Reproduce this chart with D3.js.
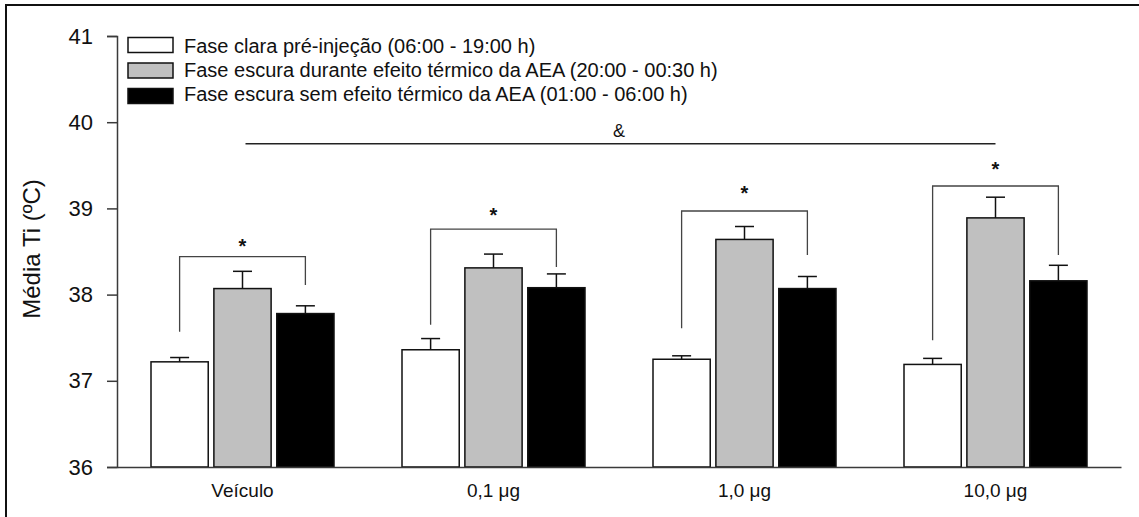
<!DOCTYPE html>
<html>
<head>
<meta charset="utf-8">
<script src="https://cdn.jsdelivr.net/npm/d3@7"></script>
<style>
  html, body { margin: 0; padding: 0; background: #fff; }
  svg { display: block; font-family: Arial, "Liberation Sans", sans-serif; }
</style>
</head>
<body>
<svg id="chart" width="1139" height="517"></svg>
<script>
// Doses (groups along the x axis)
const categories = ["Veículo", "0,1 μg", "1,0 μg", "10,0 μg"];

// Phases (one bar per group)
const seriesNames = [
  "Fase clara pré-injeção (06:00 - 19:00 h)",
  "Fase escura durante efeito térmico da AEA (20:00 - 00:30 h)",
  "Fase escura sem efeito térmico da AEA (01:00 - 06:00 h)"
];
const seriesFill = ["#ffffff", "#c0c0c0", "#000000"];

// Mean body temperature (°C) and standard error
const preInjection = [37.22, 37.36, 37.25, 37.19];
const preInjectionErr = [0.05, 0.13, 0.04, 0.07];
const darkDuring = [38.07, 38.31, 38.64, 38.89];
const darkDuringErr = [0.20, 0.16, 0.15, 0.24];
const darkAfter = [37.78, 38.08, 38.07, 38.16];
const darkAfterErr = [0.09, 0.16, 0.14, 0.18];

// Significance brackets per group (°C levels)
const bracketTop = [38.44, 38.76, 38.97, 39.26];
const bracketLeftEnd = [37.57, 37.65, 37.61, 37.47];
const bracketRightEnd = [38.11, 38.32, 38.46, 38.46];
const starLevel = [38.61, 38.97, 39.22, 39.50];

// Overall effect line across doses
const overallLevel = 39.75;
const overallLabelLevel = 39.83;

const yTicks = [36, 37, 38, 39, 40, 41];

const values = [preInjection, darkDuring, darkAfter];
const errors = [preInjectionErr, darkDuringErr, darkAfterErr];

const svg = d3.select("#chart");
const axisColor = "#3a3a3a";
const fontStack = "Arial, 'Liberation Sans', sans-serif";

// Frame around the figure
svg.append("path")
  .attr("d", "M6,517 L6,5 L1139,5")
  .attr("fill", "none").attr("stroke", "#111").attr("stroke-width", 2);

const x0 = d3.scaleBand().domain(categories).range([117, 1121]).padding(0);
const x1 = d3.scaleBand().domain(d3.range(seriesNames.length)).range([34, 217]).paddingInner(0.09);
const y = d3.scaleLinear().domain([36, 41]).range([467, 36]);

// Bars
const groups = svg.append("g").selectAll("g")
  .data(categories)
  .join("g")
  .attr("transform", d => `translate(${x0(d)},0)`);

groups.each(function(cat, gi) {
  const g = d3.select(this);
  seriesNames.forEach((s, si) => {
    const v = values[si][gi];
    const e = errors[si][gi];
    const bx = x1(si);
    const bw = x1.bandwidth();
    const cx = bx + bw / 2;
    // error bar (upper only)
    g.append("line")
      .attr("x1", cx).attr("x2", cx)
      .attr("y1", y(v)).attr("y2", y(v + e))
      .attr("stroke", "#111").attr("stroke-width", 1.5);
    g.append("line")
      .attr("x1", cx - 9.5).attr("x2", cx + 9.5)
      .attr("y1", y(v + e)).attr("y2", y(v + e))
      .attr("stroke", "#111").attr("stroke-width", 1.5);
    g.append("rect")
      .attr("x", bx).attr("width", bw)
      .attr("y", y(v)).attr("height", y(36) - y(v))
      .attr("fill", seriesFill[si])
      .attr("stroke", "#111").attr("stroke-width", 1.5);
  });

  // significance bracket between first and last phase
  const lx = x1(0) + x1.bandwidth() / 2;
  const rx = x1(2) + x1.bandwidth() / 2;
  g.append("path")
    .attr("d", `M${lx},${y(bracketLeftEnd[gi])} L${lx},${y(bracketTop[gi])} L${rx},${y(bracketTop[gi])} L${rx},${y(bracketRightEnd[gi])}`)
    .attr("fill", "none").attr("stroke", "#444").attr("stroke-width", 1.3);
  g.append("text")
    .attr("x", x0.bandwidth() / 2).attr("y", y(starLevel[gi]))
    .attr("dy", "0.55em")
    .attr("text-anchor", "middle")
    .attr("font-size", 20).attr("font-weight", "bold")
    .attr("fill", "#111")
    .text("*");
});

// Overall effect line
const firstC = x0(categories[0]) + x0.bandwidth() / 2;
const lastC = x0(categories[categories.length - 1]) + x0.bandwidth() / 2;
svg.append("line")
  .attr("x1", firstC + 3).attr("x2", lastC)
  .attr("y1", y(overallLevel)).attr("y2", y(overallLevel))
  .attr("stroke", "#222").attr("stroke-width", 1.5);
svg.append("text")
  .attr("x", (firstC + lastC) / 2).attr("y", y(overallLabelLevel))
  .attr("text-anchor", "middle").attr("font-size", 18).attr("fill", "#111")
  .attr("font-family", fontStack)
  .text("&");

// Y axis
const yAxis = d3.axisLeft(y).tickValues(yTicks).tickSize(10).tickPadding(14).tickFormat(d3.format("d"));
const yg = svg.append("g").attr("transform", "translate(117,0)").call(yAxis)
  .attr("font-size", 22).attr("font-family", fontStack);
yg.select(".domain").attr("stroke", axisColor).attr("stroke-width", 1.5);
yg.selectAll(".tick line").attr("stroke", axisColor).attr("stroke-width", 1.5);
yg.selectAll(".tick text").attr("fill", "#111");

// X axis (baseline with category labels, no ticks)
const xAxis = d3.axisBottom(x0).tickSize(0).tickPadding(17);
const xg = svg.append("g").attr("transform", `translate(0,${y(36)})`).call(xAxis)
  .attr("font-size", 19).attr("font-family", fontStack);
xg.select(".domain").attr("stroke", axisColor).attr("stroke-width", 1.5);
xg.selectAll(".tick text").attr("fill", "#111");

// Y axis title
svg.append("text")
  .attr("transform", "translate(40,249) rotate(-90)")
  .attr("text-anchor", "middle").attr("font-size", 24).attr("fill", "#111")
  .text("Média Ti (ºC)");

// Legend
const legend = svg.append("g");
seriesNames.forEach((s, i) => {
  legend.append("rect")
    .attr("x", 128).attr("y", 37.5 + i * 25.5)
    .attr("width", 45).attr("height", 15)
    .attr("fill", seriesFill[i]).attr("stroke", "#111").attr("stroke-width", 1.5);
  legend.append("text")
    .attr("x", 184).attr("y", 52.5 + i * 24.3)
    .attr("font-size", 20).attr("fill", "#111")
    .text(s);
});
</script>
</body>
</html>
